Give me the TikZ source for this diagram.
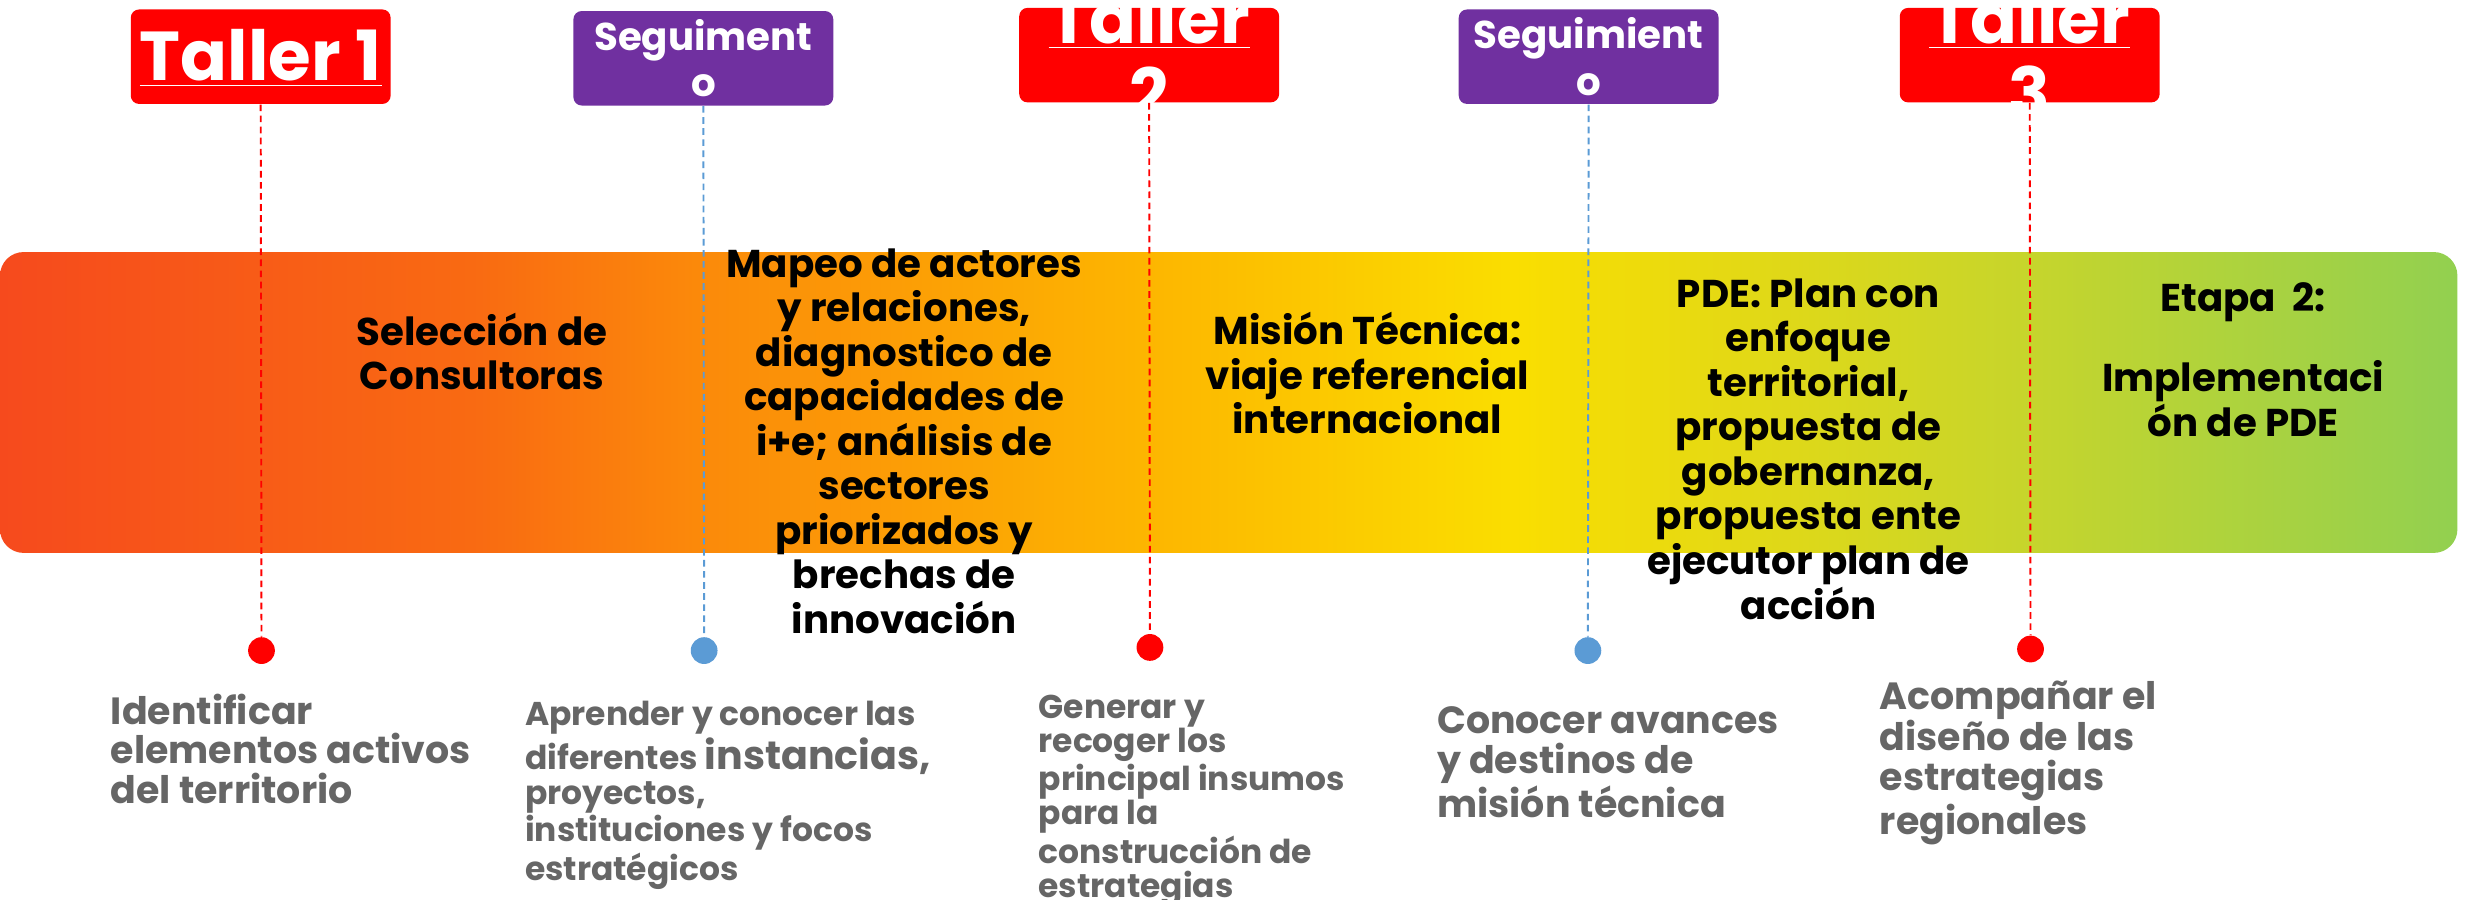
\documentclass[tikz,border=0pt]{standalone}
\usepackage{fontspec}
\setmainfont{Poppins}
\usepackage{tikz}
\usetikzlibrary{calc}

\definecolor{tallerred}{HTML}{FF0000}
\definecolor{segpurple}{HTML}{7030A0}
\definecolor{segblue}{HTML}{5B9BD5}
\definecolor{txtgray}{HTML}{666666}
\definecolor{bandA}{HTML}{F64A1D}
\definecolor{bandB}{HTML}{F96A12}
\definecolor{bandC}{HTML}{FB8A0A}
\definecolor{bandD}{HTML}{FDB600}
\definecolor{bandE}{HTML}{FADE00}
\definecolor{bandF}{HTML}{E4D914}
\definecolor{bandG}{HTML}{C6D52C}
\definecolor{bandH}{HTML}{92D050}

\pgfdeclarehorizontalshading{bandshade}{100bp}{color(0bp)=(bandA); color(25bp)=(bandA); color(34.6bp)=(bandB); color(39.3bp)=(bandC); color(48.4bp)=(bandD); color(55.8bp)=(bandE); color(60.3bp)=(bandF); color(66.3bp)=(bandG); color(75bp)=(bandH); color(100bp)=(bandH)}

\tikzset{
  tallerbox/.style={fill=tallerred, rounded corners=3pt, minimum width=3.3cm, minimum height=1.2cm, inner sep=0pt},
  segbox/.style={fill=segpurple, rounded corners=3pt, minimum width=3.3cm, minimum height=1.2cm, inner sep=0pt},
  tallertxt/.style={text=white, font=\bfseries\fontsize{25}{27}\selectfont, align=center, inner sep=0pt},
  segtxt/.style={text=white, font=\bfseries\fontsize{14}{16.8}\selectfont, align=center, inner sep=0pt},
  reddot/.style={circle, fill=tallerred, minimum size=0.34cm, inner sep=0pt},
  bluedot/.style={circle, fill=segblue, minimum size=0.34cm, inner sep=0pt},
  redline/.style={draw=tallerred, line width=0.7pt, dash pattern=on 2.4pt off 1.6pt},
  blueline/.style={draw=segblue, line width=0.7pt, dash pattern=on 2.4pt off 1.6pt},
  bandtxt/.style={font=\bfseries\fontsize{14}{16.1}\selectfont, align=center, inner sep=0pt},
  goaltxt/.style={text=txtgray, font=\bfseries\fontsize{13.7}{14.4}\selectfont, align=left, inner sep=0pt, anchor=north west},
  smallgoal/.style={text=txtgray, font=\bfseries\fontsize{11.9}{12.6}\selectfont, align=left, inner sep=0pt, anchor=north west}
}

\begin{document}
\begin{tikzpicture}[x=0.02cm, y=-0.02cm]
			%%%%% START %%%%%
			\useasboundingbox (0, 0) rectangle (1568, 571);
			
			\shade[shading=bandshade, rounded corners=0.3cm] (0, 160) rectangle (1560, 351);
			
			\node[tallerbox] (t1) at (165.5, 36) {};
			\node[segbox] (s1) at (446.5, 37) {};
			\node[tallerbox] (t2) at (729.5, 35) {};
			\node[segbox] (s2) at (1008.5, 36) {};
			\node[tallerbox] (t3) at (1288.5, 35) {};
			
			\node[tallertxt] at ($(t1)+(0,1)$) {\underline{Taller 1}};
			\node[segtxt] at (s1) {Seguiment\\o};
			\node[tallertxt] at (t2) {\underline{Taller}\\2};
			\node[segtxt] at (s2) {Seguimient\\o};
			\node[tallertxt] at (t3) {\underline{Taller}\\3};
			
			\node[reddot] (d1) at (166, 413) {};
			\node[bluedot] (d2) at (447, 413) {};
			\node[reddot] (d3) at (730, 411) {};
			\node[bluedot] (d4) at (1008, 413) {};
			\node[reddot] (d5) at (1289, 412) {};
			
			\draw[redline] (t1.south) -- (d1.north);
			\draw[blueline] (s1.south) -- (d2.north);
			\draw[redline] (t2.south) -- (d3.north);
			\draw[blueline] (s2.south) -- (d4.north);
			\draw[redline] (t3.south) -- (d5.north);
			
			%%%%% STAGES %%%%%
			\node[bandtxt] (e1) at (306, 223) {Selección de\\Consultoras};
			\node[bandtxt] (e2) at (574, 280) {Mapeo de actores\\y relaciones,\\diagnostico de\\capacidades de\\i+e; análisis de\\sectores\\priorizados y\\brechas de\\innovación};
			\node[bandtxt] (e3) at (868, 237) {Misión Técnica:\\viaje referencial\\internacional};
			\node[bandtxt] (e4) at (1148, 285) {PDE: Plan con\\enfoque\\territorial,\\propuesta de\\gobernanza,\\propuesta ente\\ejecutor plan de\\acción};
			\node[bandtxt] (e5) at (1424, 192) {Etapa~~2:};
			\node[bandtxt] (e6) at (1424, 253) {Implementaci\\ón de PDE};
			
			%%%%% GOALS %%%%%
			\node[goaltxt] (g1) at (70, 440) {Identificar\\elementos activos\\del territorio};
			\node[smallgoal] (g2) at (333, 445) {Aprender y conocer las\\diferentes {\fontsize{14.3}{13}\selectfont instancias,}\\proyectos,\\instituciones y focos\\estratégicos};
			\node[smallgoal, font=\bfseries\fontsize{11.9}{12.2}\selectfont] (g3) at (659, 441) {Generar y\\recoger los\\principal insumos\\para la\\construcción de\\estrategias};
			\node[goaltxt] (g4) at (912, 448) {Conocer avances\\y destinos de\\misión técnica};
			\node[goaltxt, font=\bfseries\fontsize{13.7}{14.7}\selectfont] (g5) at (1193, 432) {Acompañar el\\diseño de las\\estrategias\\regionales};
			%%%%% END %%%%%
\end{tikzpicture}
\end{document}
